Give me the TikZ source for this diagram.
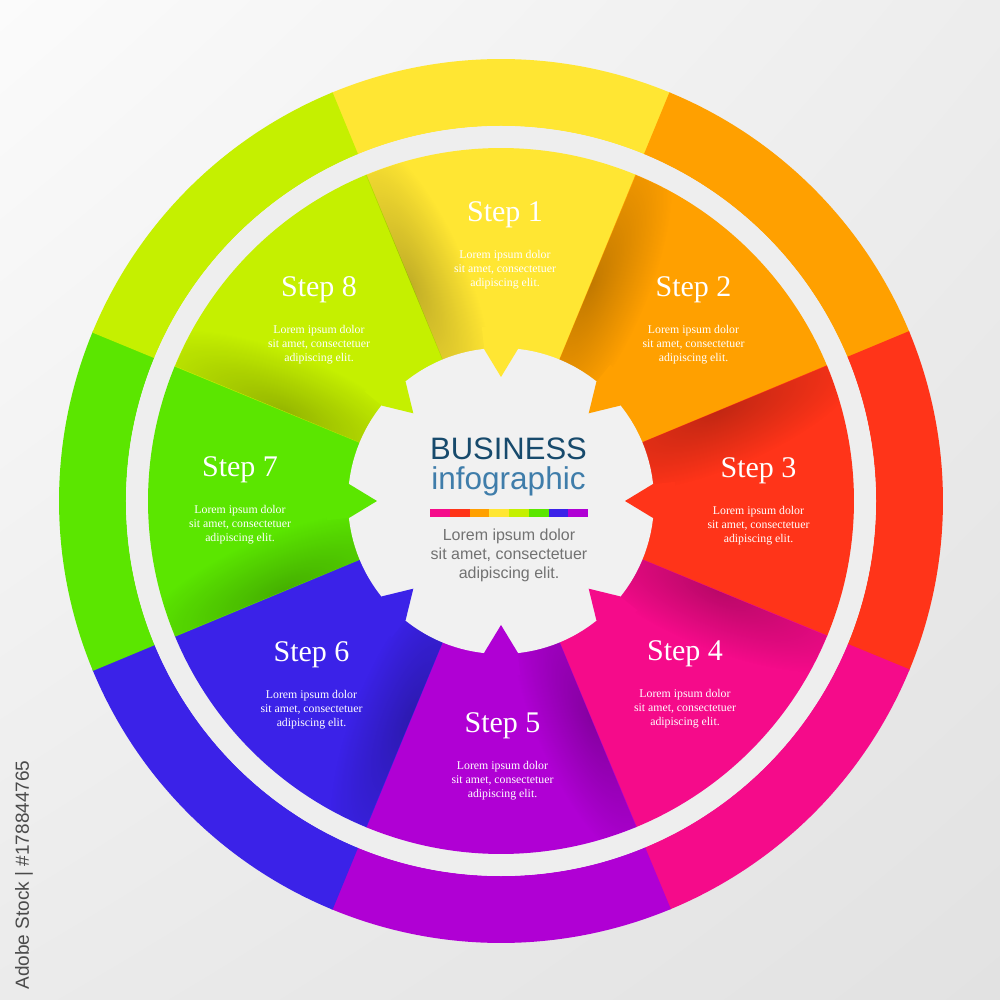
\documentclass[tikz,border=0pt]{standalone}
\usepackage{fontspec}
\setmainfont{Liberation Serif}
\newfontfamily\sansf{Liberation Sans}
\usetikzlibrary{fadings,shadings}
\definecolor{cA}{HTML}{FFE633}
\definecolor{cB}{HTML}{FFA000}
\definecolor{cC}{HTML}{FF3419}
\definecolor{cD}{HTML}{F50B8A}
\definecolor{cE}{HTML}{B000D4}
\definecolor{cF}{HTML}{3B22E8}
\definecolor{cG}{HTML}{5BE600}
\definecolor{cH}{HTML}{C5F000}
\definecolor{bgA}{HTML}{FBFBFB}
\definecolor{bgB}{HTML}{EDEDED}
\definecolor{bgC}{HTML}{EBEBEB}
\definecolor{bgD}{HTML}{E2E2E2}
\definecolor{gapc}{HTML}{EEEEEE}
\definecolor{gearc}{HTML}{F1F1F1}
\definecolor{navyc}{HTML}{174A6C}
\definecolor{bluec}{HTML}{3F7DAA}
\definecolor{loremc}{HTML}{727272}
\definecolor{markc}{HTML}{4A4A4A}
\tikzfading[name=fuzzy, inner color=transparent!0, outer color=transparent!100]
\tikzset{
  steptitle/.style={inner sep=0pt, anchor=base, text=white, font=\fontsize{30}{30}\selectfont},
  stepbody/.style={inner sep=0pt, anchor=base, text=white, font=\fontsize{11.8}{14}\selectfont},
  centerbody/.style={inner sep=0pt, anchor=base, text=loremc, font=\sansf\fontsize{16}{19}\selectfont},
}
\newcommand\stepblock[4]{%
  \node[steptitle] (#1) at (#2,#3) {#4};
  \node[stepbody] (#1a) at (#2,#3-37) {Lorem ipsum dolor};
  \node[stepbody] (#1b) at (#2,#3-51) {sit amet, consectetuer};
  \node[stepbody] (#1c) at (#2,#3-65) {adipiscing elit.};
}
\begin{document}
\begin{tikzpicture}[x=1pt,y=1pt]
\useasboundingbox (-501,-499) rectangle (499,501);
\shade[upper left=bgA, upper right=bgB, lower left=bgC, lower right=bgD] (-501,-499) rectangle (499,501);
% outer ring
\foreach \a/\c in {90/cA,45/cB,0/cC,-45/cD,-90/cE,-135/cF,180/cG,135/cH}{
  \fill[\c] ({\a-22.6}:442) arc[start angle=\a-22.6, end angle=\a+22.6, radius=442]
     -- ({\a+22.6}:375) arc[start angle=\a+22.6, end angle=\a-22.6, radius=375] -- cycle;
}
% gap
\fill[gapc] (0,0) circle[radius=375];
% inner wedges
\foreach \a/\c in {90/cA,45/cB,0/cC,-45/cD,-90/cE,-135/cF,180/cG,135/cH}{
  \fill[\c] (0,0) -- ({\a-22.6}:353) arc[start angle=\a-22.6, end angle=\a+22.6, radius=353] -- cycle;
}
% shadows along the counterclockwise edge of each wedge
\foreach \a in {90,45,0,-45,-90,-135,180,135}{
  \begin{scope}[transform canvas={rotate=\a+22.5}]
    \clip (0,0) -- (-45:352.5) arc[start angle=-45, end angle=0, radius=352.5] -- cycle;
    \fill[black, fill opacity=0.24, path fading=fuzzy] (235,0) ellipse[x radius=160, y radius=58];
  \end{scope}
}
% central gear
\fill[gearc] (0,0) circle[radius=153];
\foreach \a/\c in {90/cA,45/cB,0/cC,-45/cD,-90/cE,-135/cF,180/cG,135/cH}{
  \fill[\c] ({\a-6.3}:175) -- ({\a-6.3}:152.5) -- (\a:124) -- ({\a+6.3}:152.5) -- ({\a+6.3}:175) -- cycle;
}
% centre text
\node[inner sep=0pt, anchor=base, text=navyc, font=\sansf\fontsize{31}{31}\selectfont] (biz) at (7.5,41) {BUSINESS};
\node[inner sep=0pt, anchor=base, text=bluec, font=\sansf\fontsize{31.5}{31.5}\selectfont] (info) at (7.5,11) {infographic};
\foreach \c [count=\i from 0] in {cD,cC,cB,cA,cH,cG,cF,cE}{
  \fill[\c] ({-71+\i*19.75},-8) rectangle ({-71+(\i+1)*19.75},-16);
}
\node[centerbody] (cl1) at (8,-40) {Lorem ipsum dolor};
\node[centerbody] (cl2) at (8,-59) {sit amet, consectetuer};
\node[centerbody] (cl3) at (8,-78) {adipiscing elit.};
% step texts
\stepblock{s1}{4}{279}{Step 1}
\stepblock{s2}{192.5}{204}{Step 2}
\stepblock{s3}{257.5}{23}{Step 3}
\stepblock{s4}{184}{-159}{Step 4}
\stepblock{s5}{1.5}{-231}{Step 5}
\stepblock{s6}{-189.5}{-160}{Step 6}
\stepblock{s7}{-261}{24}{Step 7}
\stepblock{s8}{-182}{204}{Step 8}
% side mark
\node[inner sep=0pt, rotate=90, text=markc, font=\sansf\fontsize{19}{19}\selectfont] (mark) at (-477,-374) {Adobe Stock | \#178844765};
\end{tikzpicture}
\end{document}
